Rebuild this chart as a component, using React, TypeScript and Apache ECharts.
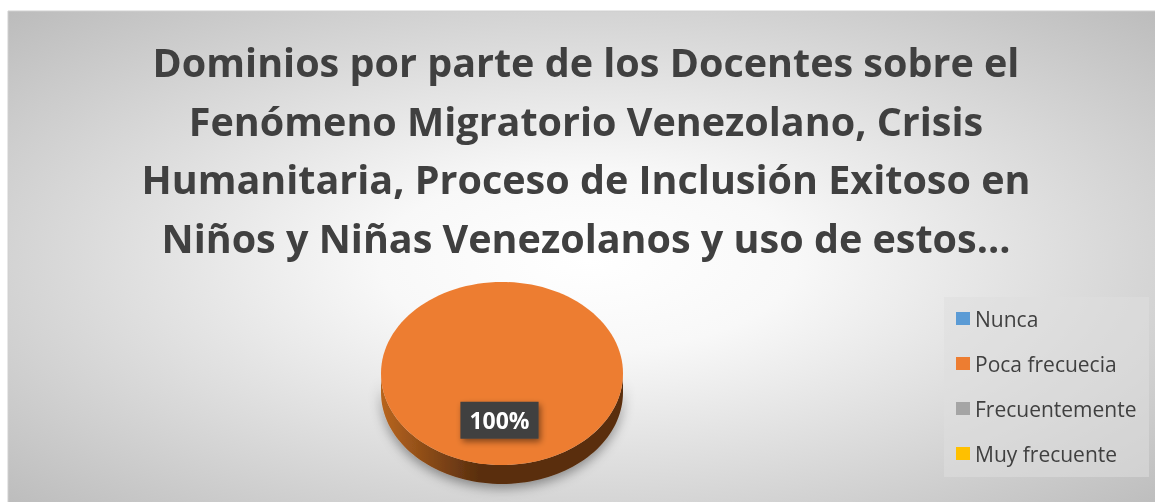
import React, { useEffect, useRef } from "react";
import * as echarts from "echarts";

const categories = ["Nunca", "Poca frecuecia", "Frecuentemente", "Muy frecuente"];
const values = [0, 100, 0, 0];
const colors = ["#5B9BD5", "#ED7D31", "#A5A5A5", "#FFC000"];
const sideLight = ["#3f78ad", "#b8651f", "#7d7d7d", "#c29100"];
const sideDark = ["#1f4468", "#5a2f0f", "#4a4a4a", "#6e5200"];
const titleLines = [
  "Dominios por parte de los Docentes sobre el",
  "Fenómeno Migratorio Venezolano, Crisis",
  "Humanitaria, Proceso de Inclusión Exitoso en",
  "Niños y Niñas Venezolanos y uso de estos…",
];

const FONT = "'Open Sans', 'Noto Sans', sans-serif";

export default function App() {
  const ref = useRef<HTMLDivElement>(null);
  useEffect(() => {
    if (!ref.current) return;
    const chart = echarts.init(ref.current, undefined, { renderer: "svg" });
    const total = values.reduce((a, b) => a + b, 0);
    const cx = 502, cy = 373.5, rx = 121, ry = 91.5, depth = 19;
    const pt = (t: number, dy = 0) => [cx + rx * Math.sin(t), cy - ry * Math.cos(t) + dy];

    const makeRender = (i: number) => (params: any, api: any) => {
      const v = api.value(0);
      if (!v || !total) return { type: "group", children: [] };
      const start = (values.slice(0, i).reduce((a, b) => a + b, 0) / total) * Math.PI * 2;
      const end = start + (v / total) * Math.PI * 2;
      const children: any[] = [];
      const s0 = Math.max(start, Math.PI / 2);
      const s1 = Math.min(end, (Math.PI * 3) / 2);
      if (s1 > s0) {
        const pts: number[][] = [];
        const n = 80;
        for (let k = 0; k <= n; k++) pts.push(pt(s0 + ((s1 - s0) * k) / n));
        for (let k = n; k >= 0; k--) pts.push(pt(s0 + ((s1 - s0) * k) / n, depth));
        children.push({
          type: "polygon",
          z2: 1,
          shape: { points: pts },
          style: {
            fill: new echarts.graphic.LinearGradient(0, 0, 1, 0, [
              { offset: 0, color: sideLight[i] },
              { offset: 0.4, color: sideDark[i] },
              { offset: 1, color: sideDark[i] },
            ]),
            shadowBlur: 12,
            shadowColor: "rgba(0,0,0,0.4)",
            shadowOffsetY: 4,
          },
        });
      }
      if (v >= total) {
        children.push({
          type: "ellipse",
          z2: 2,
          shape: { cx, cy, rx, ry },
          style: { fill: colors[i] },
        });
      } else {
        const pts: number[][] = [[cx, cy]];
        const n = 80;
        for (let k = 0; k <= n; k++) pts.push(pt(start + ((end - start) * k) / n));
        children.push({ type: "polygon", z2: 2, shape: { points: pts }, style: { fill: colors[i] } });
      }
      const mid = (start + end) / 2;
      const lx = cx + rx * 0.5 * Math.sin(mid) - 2.5;
      const ly = cy - ry * 0.51 * Math.cos(mid);
      children.push({
        type: "text",
        z2: 3,
        style: {
          text: Math.round((v / total) * 100) + "%",
          x: lx,
          y: ly,
          align: "center",
          verticalAlign: "middle",
          fill: "#ffffff",
          font: `bold 23px ${FONT}`,
          backgroundColor: "#404040",
          padding: [7, 9, 7, 9],
          shadowBlur: 6,
          shadowColor: "rgba(0,0,0,0.45)",
          shadowOffsetX: 2,
          shadowOffsetY: 3,
        },
      });
      return { type: "group", children };
    };

    chart.setOption({
      animation: false,
      graphic: [
        {
          type: "rect",
          z: -10,
          shape: { x: 8, y: 11, width: 1160, height: 500 },
          style: {
            fill: new echarts.graphic.RadialGradient(0.5, 0.5, 0.72, [
              { offset: 0, color: "#ffffff" },
              { offset: 0.25, color: "#f8f8f8" },
              { offset: 1, color: "#bababa" },
            ]),
            stroke: "#d0d0d0",
            lineWidth: 1,
          },
        },
        {
          type: "rect",
          z: -5,
          shape: { x: 944, y: 297, width: 205, height: 180 },
          style: { fill: "rgba(222,222,222,0.55)" },
        },
        {
          type: "text",
          z: 5,
          style: {
            text: titleLines.join("\n"),
            x: 586,
            y: 33,
            align: "center",
            verticalAlign: "top",
            fill: "#404040",
            font: `bold 39.5px ${FONT}`,
            lineHeight: 58.5,
          },
        },
      ],
      legend: {
        orient: "vertical",
        left: 951,
        top: 302,
        icon: "rect",
        itemWidth: 14,
        itemHeight: 13,
        itemGap: 22,
        data: categories,
        textStyle: { color: "#404040", fontFamily: FONT, fontSize: 21, lineHeight: 23 },
        selectedMode: false,
      },
      series: categories.map((name, i) => ({
        type: "custom",
        name,
        coordinateSystem: "none",
        itemStyle: { color: colors[i] },
        data: [[values[i]]],
        renderItem: makeRender(i),
        silent: true,
      })),
    });
    return () => chart.dispose();
  }, []);
  return (
    <div
      ref={ref}
      style={{ position: "fixed", left: 0, top: 0, width: 1155, height: 502 }}
    />
  );
}
